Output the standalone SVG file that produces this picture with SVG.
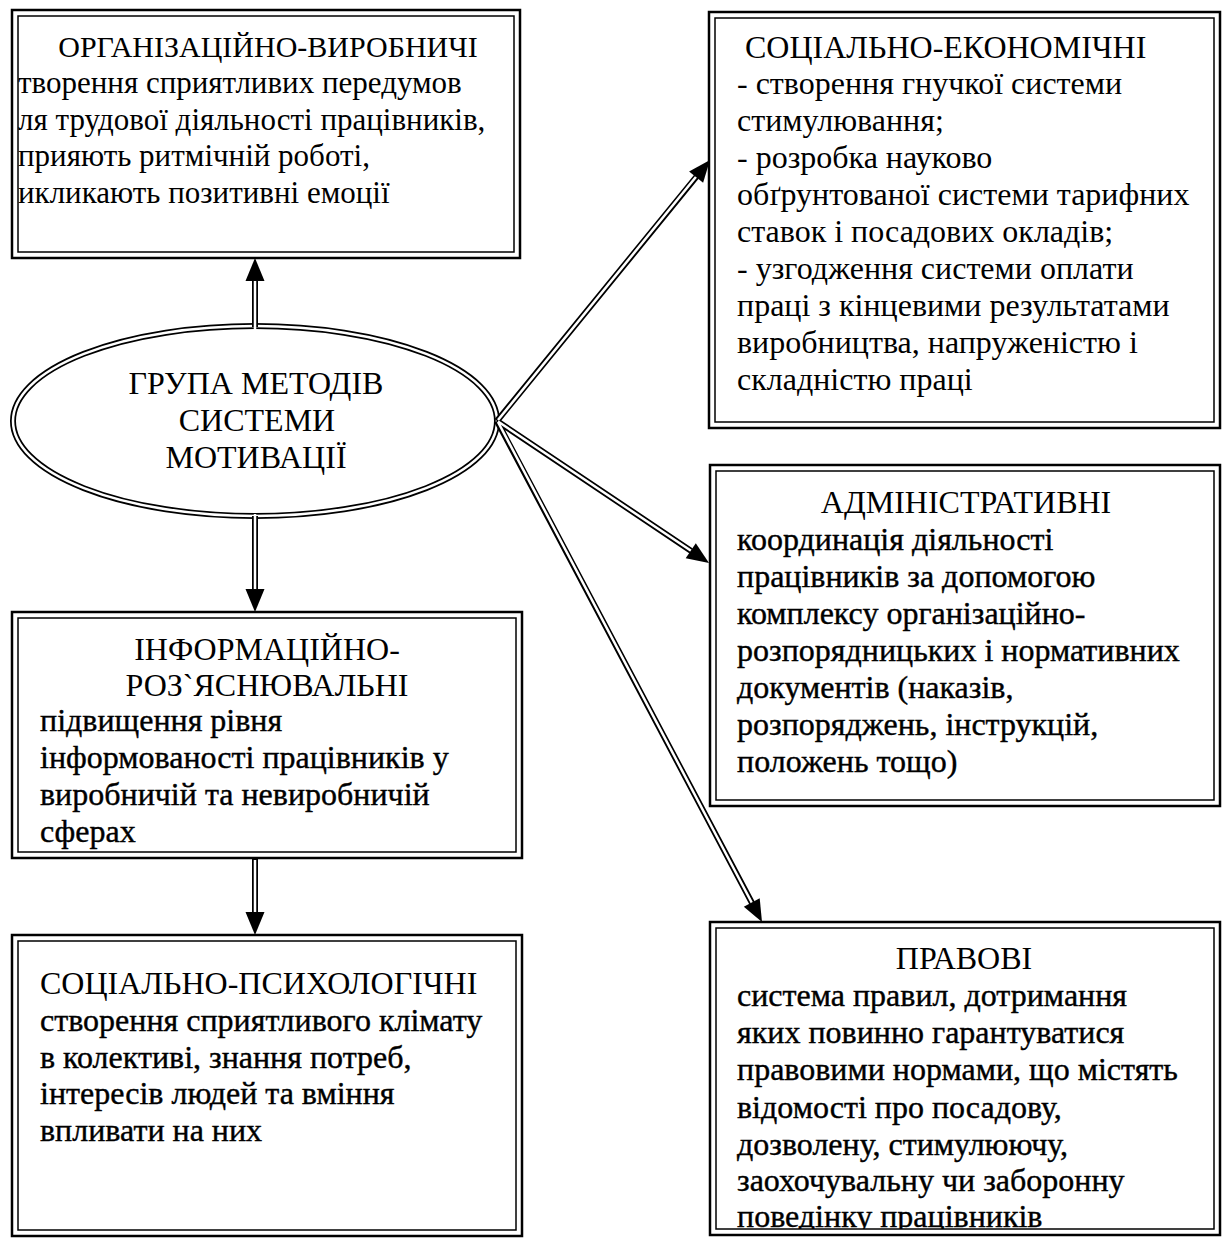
<svg xmlns="http://www.w3.org/2000/svg" width="1223" height="1238" viewBox="0 0 1223 1238">
<style>
  .bo{fill:#fff;stroke:#000;stroke-width:2.5}
  .bi{fill:none;stroke:#000;stroke-width:1.5}
  .t{font-family:'Liberation Serif','Times New Roman',serif;font-size:32px;fill:#000}
  .s30{font-size:30px}
  .s31{font-size:31px}
  .hv{stroke:#000;stroke-width:0.4}
  .m{text-anchor:middle}
  .sb{fill:none;stroke:#000;stroke-width:6}
  .sw{fill:none;stroke:#fff;stroke-width:2.5}
  .ah{fill:#000;stroke:none}
</style>
<defs>
  <clipPath id="c1"><rect x="18" y="16" width="496" height="236"/></clipPath>
  <clipPath id="c3"><rect x="18" y="618" width="498" height="234"/></clipPath>
  <clipPath id="c7"><rect x="716" y="928" width="498" height="301"/></clipPath>
</defs>
<rect width="1223" height="1238" fill="#fff"/>

<g id="node-org">
  <rect class="bo" x="12" y="10" width="508" height="248"/>
  <rect class="bi" x="18" y="16" width="496" height="236"/>
  <text class="t s30 m" x="268" y="57">ОРГАНІЗАЦІЙНО-ВИРОБНИЧІ</text>
  <g clip-path="url(#c1)">
    <text class="t s31" x="18" y="93">творення сприятливих передумов</text>
    <text class="t s31" x="18" y="130">ля трудової діяльності працівників,</text>
    <text class="t s31" x="18" y="166">прияють ритмічній роботі,</text>
    <text class="t s31" x="18" y="203">икликають позитивні емоції</text>
  </g>
</g>

<g id="node-socecon">
  <rect class="bo" x="709" y="12" width="511" height="416"/>
  <rect class="bi" x="715" y="18" width="499" height="404"/>
  <text class="t" x="745" y="58">СОЦІАЛЬНО-ЕКОНОМІЧНІ</text>
  <text class="t" x="737" y="94">- створення гнучкої системи</text>
  <text class="t" x="737" y="131">стимулювання;</text>
  <text class="t" x="737" y="168">- розробка науково</text>
  <text class="t" x="737" y="205">обґрунтованої системи тарифних</text>
  <text class="t" x="737" y="242">ставок і посадових окладів;</text>
  <text class="t" x="737" y="279">- узгодження системи оплати</text>
  <text class="t" x="737" y="316">праці з кінцевими результатами</text>
  <text class="t" x="737" y="353">виробництва, напруженістю і</text>
  <text class="t" x="737" y="390">складністю праці</text>
</g>

<g id="node-center">
  <ellipse class="sb" cx="255" cy="421" rx="242" ry="95" fill="#fff"/>
  <ellipse class="sw" cx="255" cy="421" rx="242" ry="95"/>
  <text class="t m" x="256" y="394">ГРУПА МЕТОДІВ</text>
  <text class="t m" x="257" y="431">СИСТЕМИ</text>
  <text class="t m" x="256" y="468">МОТИВАЦІЇ</text>
</g>

<g id="node-info">
  <rect class="bo" x="12" y="612" width="510" height="246"/>
  <rect class="bi" x="18" y="618" width="498" height="234"/>
  <text class="t m" x="267" y="660">ІНФОРМАЦІЙНО-</text>
  <text class="t m" x="267" y="696">РОЗ`ЯСНЮВАЛЬНІ</text>
  <g clip-path="url(#c3)">
    <text class="t hv" x="40" y="731">підвищення рівня</text>
    <text class="t hv" x="40" y="768">інформованості працівників у</text>
    <text class="t hv" x="40" y="805">виробничій та невиробничій</text>
    <text class="t hv" x="40" y="842">сферах</text>
  </g>
</g>

<g id="node-admin">
  <rect class="bo" x="710" y="465" width="510" height="341"/>
  <rect class="bi" x="716" y="471" width="498" height="329"/>
  <text class="t m" x="966" y="513">АДМІНІСТРАТИВНІ</text>
  <text class="t hv" x="737" y="550">координація діяльності</text>
  <text class="t hv" x="737" y="587">працівників за допомогою</text>
  <text class="t hv" x="737" y="624">комплексу організаційно-</text>
  <text class="t hv" x="737" y="661">розпорядницьких і нормативних</text>
  <text class="t hv" x="737" y="698">документів (наказів,</text>
  <text class="t hv" x="737" y="735">розпоряджень, інструкцій,</text>
  <text class="t hv" x="737" y="772">положень тощо)</text>
</g>

<g id="node-socpsy">
  <rect class="bo" x="12" y="935" width="510" height="301"/>
  <rect class="bi" x="18" y="941" width="498" height="289"/>
  <text class="t" x="40" y="994">СОЦІАЛЬНО-ПСИХОЛОГІЧНІ</text>
  <text class="t hv" x="40" y="1031">створення сприятливого клімату</text>
  <text class="t hv" x="40" y="1068">в колективі, знання потреб,</text>
  <text class="t hv" x="40" y="1104">інтересів людей та вміння</text>
  <text class="t hv" x="40" y="1141">впливати на них</text>
</g>

<g id="node-legal">
  <rect class="bo" x="710" y="922" width="510" height="313"/>
  <rect class="bi" x="716" y="928" width="498" height="301"/>
  <text class="t m" x="964" y="969">ПРАВОВІ</text>
  <g clip-path="url(#c7)">
    <text class="t hv" x="737" y="1006">система правил, дотримання</text>
    <text class="t hv" x="737" y="1043">яких повинно гарантуватися</text>
    <text class="t hv" x="737" y="1080">правовими нормами, що містять</text>
    <text class="t hv" x="737" y="1118">відомості про посадову,</text>
    <text class="t hv" x="737" y="1155">дозволену, стимулюючу,</text>
    <text class="t hv" x="737" y="1191">заохочувальну чи заборонну</text>
    <text class="t hv" x="737" y="1227">поведінку працівників</text>
  </g>
</g>

<g id="connectors">
  <path class="sb" d="M255,327 V279 M255,516 V591 M255,858 V914 M497,421 L696.5,176.6 M497,421 L691.2,550.9 M497,421 L752,903"/>
  <path class="sw" d="M255,329 V277 M255,514 V593 M255,860 V916 M498,420 L697.5,175 M498,421.5 L692.5,551.8 M498,422 L753,905"/>
  <polygon class="ah" points="255,258 264.5,281 245.5,281"/>
  <polygon class="ah" points="255,612 245.5,589 264.5,589"/>
  <polygon class="ah" points="255,935 245.5,912 264.5,912"/>
  <polygon class="ah" points="710,160 703.1,182.8 689.1,171.4"/>
  <polygon class="ah" points="709,563 685.7,558.2 695.8,543.2"/>
  <polygon class="ah" points="762,922 743.8,906.7 759.7,898.3"/>
</g>
</svg>
